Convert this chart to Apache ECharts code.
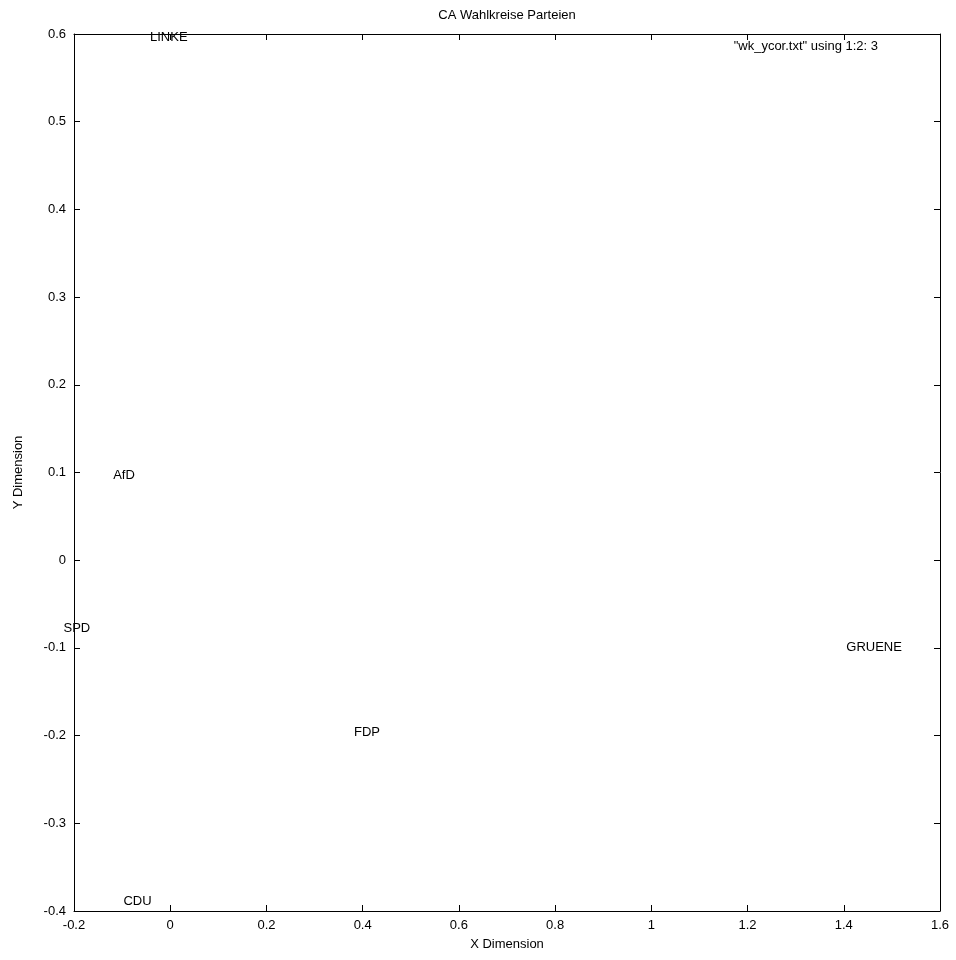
<!DOCTYPE html>
<html>
<head>
<meta charset="utf-8">
<script src="https://cdn.jsdelivr.net/npm/echarts@6/dist/echarts.min.js"></script>
<style>html,body{margin:0;padding:0;background:#fff;}#c{width:956px;height:960px;}</style>
</head>
<body>
<div id="c"></div>
<script>
const parties = ['LINKE', 'AfD', 'SPD', 'GRUENE', 'FDP', 'CDU'];
const xValues = [-0.003, -0.096, -0.194, 1.463, 0.409, -0.068];
const yValues = [0.596, 0.097, -0.078, -0.100, -0.196, -0.389];
const chartTitle = 'CA Wahlkreise Parteien';
const keyText = '"wk_ycor.txt" using 1:2: 3';

const FONT = 'Liberation Sans, Arial, sans-serif';
const FS = 13;
const chart = echarts.init(document.getElementById('c'));
const points = parties.map((p, i) => ({ name: p, value: [xValues[i], yValues[i]] }));

const baseAxis = {
  type: 'value',
  splitLine: { show: false },
  axisLine: { show: true, onZero: false, lineStyle: { color: '#000', width: 1 } },
  axisTick: { show: true, inside: true, length: 6, lineStyle: { color: '#000' } },
  axisLabel: { color: '#000', fontFamily: FONT, fontSize: FS }
};

chart.setOption({
  backgroundColor: '#fff',
  animation: false,
  graphic: [{
    type: 'text', x: 507, y: 15,
    style: { text: chartTitle, fontFamily: FONT, fontSize: FS, fill: '#000', align: 'center', verticalAlign: 'middle' }
  }, {
    type: 'text', right: 78, top: 40,
    style: { text: keyText, fontFamily: FONT, fontSize: FS, fill: '#000' }
  }],
  grid: { left: 74, right: 16, top: 34, bottom: 49, containLabel: false },
  xAxis: [
    Object.assign({}, baseAxis, {
      min: -0.2, max: 1.6, interval: 0.2, position: 'bottom',
      name: 'X Dimension', nameLocation: 'middle', nameGap: 27,
      nameTextStyle: { fontFamily: FONT, fontSize: FS, color: '#000' },
      axisLabel: Object.assign({}, baseAxis.axisLabel, { margin: 8 })
    }),
    Object.assign({}, baseAxis, {
      min: -0.2, max: 1.6, interval: 0.2, position: 'top',
      axisLabel: { show: false }
    })
  ],
  yAxis: [
    Object.assign({}, baseAxis, {
      min: -0.4, max: 0.6, interval: 0.1, position: 'left',
      name: 'Y Dimension', nameLocation: 'middle', nameGap: 49,
      nameTextStyle: { fontFamily: FONT, fontSize: FS, color: '#000' },
      axisLabel: Object.assign({}, baseAxis.axisLabel, { margin: 8 })
    }),
    Object.assign({}, baseAxis, {
      min: -0.4, max: 0.6, interval: 0.1, position: 'right',
      axisLabel: { show: false }
    })
  ],
  series: [{
    type: 'scatter',
    xAxisIndex: 0, yAxisIndex: 0,
    clip: false,
    symbolSize: 1,
    itemStyle: { color: 'rgba(0,0,0,0)', opacity: 1 },
    label: {
      show: true, position: 'inside', formatter: '{b}',
      fontFamily: FONT, fontSize: FS, color: '#000',
      textBorderWidth: 0, textBorderColor: 'transparent'
    },
    emphasis: { disabled: true },
    data: points
  }]
});
</script>
</body>
</html>
